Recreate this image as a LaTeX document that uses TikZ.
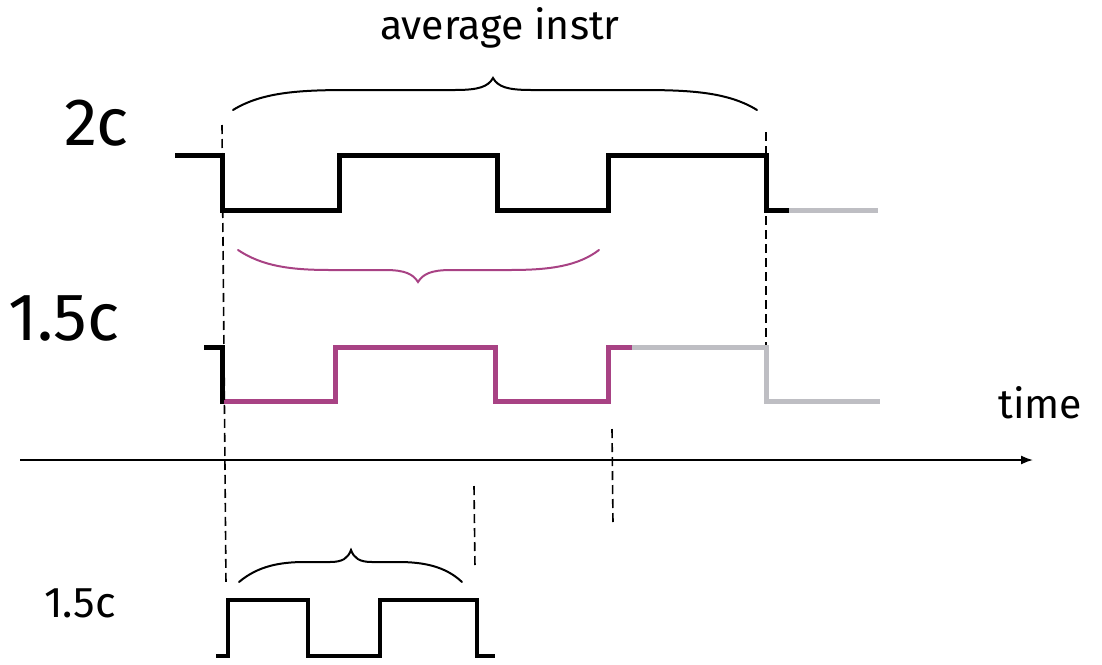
\documentclass[tikz,border=0pt]{standalone}
\usepackage{fontspec}
\setmainfont{Fira Sans}
\usetikzlibrary{arrows.meta}
\definecolor{magw}{RGB}{168,66,132}
\definecolor{grayw}{RGB}{190,190,195}
\begin{document}
\begin{tikzpicture}[x=1pt,y=-1pt,
  wave/.style={line width=5pt,line join=miter,line cap=butt},
  wavesmall/.style={line width=3.5pt,line join=miter,line cap=butt},
  guide/.style={line width=1.6pt,dash pattern=on 9pt off 5pt},
  brace/.style={line width=2pt,line cap=round},
  lbl/.style={inner sep=0pt,anchor=base west}]
\useasboundingbox (0,0) rectangle (1102,664);
% labels
\node[inner sep=0pt,anchor=base] (avg) at (500,39) {\fontsize{41}{46}\selectfont average instr};
\node[lbl] (l2c) at (64,145) {\fontsize{67}{72}\selectfont 2c};
\node[lbl] (l15c) at (8,340) {\fontsize{67}{72}\selectfont 1.5c};
\node[lbl] (ltime) at (998,418) {\fontsize{41}{46}\selectfont time};
\node[lbl] (l15b) at (44,617) {\fontsize{43}{48}\selectfont 1.5c};
% top brace
\draw[brace] (233,110) .. controls (262,92) and (300,90) .. (350,90) -- (455,90)
  .. controls (478,90) and (488,87) .. (493,78) .. controls (498,87) and (508,90) .. (531,90)
  -- (640,90) .. controls (690,90) and (728,92) .. (757,110);
% top waveform 2c
\draw[wave] (175,155) -- (222,155) -- (222,210) -- (339,210) -- (339,155) -- (497,155)
  -- (497,210) -- (608,210) -- (608,155) -- (766,155) -- (766,210) -- (791,210);
\draw[wave,grayw] (789,210) -- (878,210);
% magenta brace
\draw[brace,magw] (238,250) .. controls (262,266) and (290,270) .. (330,270) -- (385,270)
  .. controls (405,270) and (413,274) .. (418,282) .. controls (423,274) and (431,270) .. (451,270)
  -- (510,270) .. controls (550,270) and (578,266) .. (599,250);
% middle waveform 1.5c
\draw[wave] (204,347) -- (222,347) -- (222,401) -- (226,401);
\draw[wave,magw] (224,401) -- (335,401) -- (335,347) -- (495,347) -- (495,401) -- (608,401)
  -- (608,347) -- (634,347);
\draw[wave,grayw] (632,347) -- (766,347) -- (766,401) -- (880,401);
% dashed guides
\draw[guide] (222,125) -- (226,585);
\draw[guide] (766,132) -- (766,345);
\draw[guide] (612,429) -- (613,524);
\draw[guide] (474,486) -- (475,568);
% time axis
\coordinate (ax0) at (20,460);
\coordinate (ax1) at (1033,460);
\draw[line width=1.6pt,-{Latex[length=12pt,width=9pt]}] (ax0) -- (ax1);
% bottom brace
\draw[brace] (239,582) .. controls (258,566) and (280,562) .. (305,562) -- (330,562)
  .. controls (343,562) and (348,558) .. (351,550) .. controls (354,558) and (359,562) .. (372,562)
  -- (398,562) .. controls (423,562) and (445,566) .. (462,582);
% bottom waveform
\draw[wavesmall] (216,656) -- (228,656) -- (228,600) -- (308,600) -- (308,656) -- (380,656)
  -- (380,600) -- (477,600) -- (477,656) -- (495,656);
\end{tikzpicture}
\end{document}
